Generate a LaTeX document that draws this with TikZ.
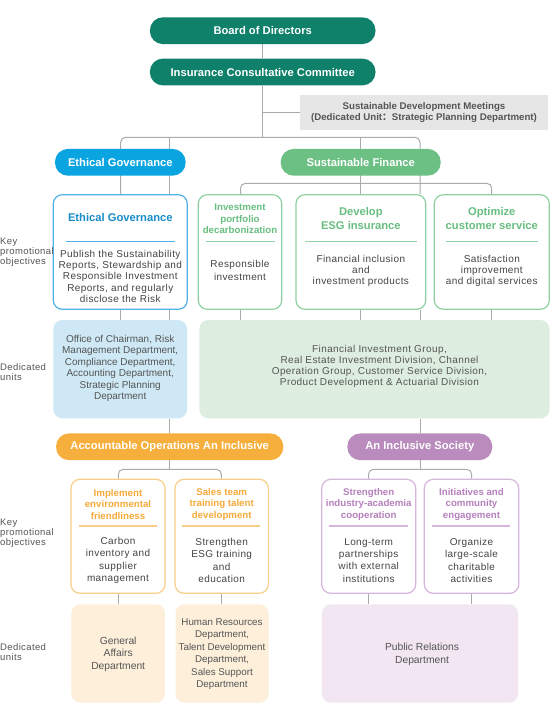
\documentclass[tikz,border=0pt]{standalone}
\usepackage{fontspec}
\setmainfont{Liberation Sans}
\newfontfamily\bodyfont[LetterSpace=4]{Liberation Sans}
\newfontfamily\cjkfont{Noto Sans CJK SC}
\usetikzlibrary{backgrounds}
\definecolor{tealc}{RGB}{15,128,106}
\definecolor{egc}{RGB}{10,165,225}
\definecolor{egborder}{RGB}{80,178,232}
\definecolor{egtitle}{RGB}{25,140,200}
\definecolor{egfill}{RGB}{206,233,245}
\definecolor{sfc}{RGB}{108,192,132}
\definecolor{sfborder}{RGB}{145,208,163}
\definecolor{sftitle}{RGB}{104,190,128}
\definecolor{sffill}{RGB}{221,237,223}
\definecolor{aoc}{RGB}{246,175,60}
\definecolor{aoborder}{RGB}{249,207,135}
\definecolor{aotitle}{RGB}{245,170,58}
\definecolor{aofill}{RGB}{253,239,218}
\definecolor{isc}{RGB}{186,140,190}
\definecolor{isborder}{RGB}{215,182,220}
\definecolor{istitle}{RGB}{182,128,188}
\definecolor{isfill}{RGB}{241,230,241}
\definecolor{graybox}{RGB}{230,230,230}
\definecolor{graytext}{RGB}{85,85,85}
\definecolor{bodytext}{RGB}{68,68,68}
\definecolor{linegray}{RGB}{170,170,170}
\begin{document}
\begin{tikzpicture}[x=1pt,y=-1pt,
  pill/.style={rectangle, rounded corners=13pt, minimum height=26.8pt, inner sep=0pt, text=white, font=\fontsize{11.2}{13}\selectfont\bfseries},
  obox/.style={rectangle, rounded corners=9pt, line width=1.2pt, fill=white, inner sep=0pt},
  fbox/.style={rectangle, rounded corners=9pt, inner sep=0pt},
  conn/.style={draw=linegray, line width=1pt},
  bigttl/.style={align=center, inner sep=0pt, font=\fontsize{11.2}{14.7}\selectfont\bfseries},
  smttl/.style={align=center, inner sep=0pt, font=\fontsize{9.7}{11.5}\selectfont\bfseries},
  bodytxt/.style={align=center, inner sep=0pt, text=bodytext},
  filltxt/.style={align=center, inner sep=0pt, text=graytext},
  sidelbl/.style={align=left, anchor=west, inner sep=0pt, text=graytext, font=\bodyfont\fontsize{9.5}{10}\selectfont},
  sepline/.style={line width=1.2pt}
]
\useasboundingbox (0,0) rectangle (550,720);

% top
\node[pill, fill=tealc, minimum width=225.6pt] (board) at (262.7,30.7) {Board of Directors};
\node[pill, fill=tealc, minimum width=225.6pt] (icc) at (262.7,72) {Insurance Consultative Committee};
\node[rectangle, fill=graybox, minimum width=248pt, minimum height=35pt, inner sep=0pt] (sdm) at (424,112.5) {};
\node[align=center, inner sep=0pt, text=graytext, font=\fontsize{9.7}{11}\selectfont\bfseries] (sdmt) at (424,112.4)
  {Sustainable Development Meetings\\(Dedicated Unit{\cjkfont ：}Strategic Planning Department)};

% second level pills
\node[pill, fill=egc, minimum width=130.7pt] (egp) at (120.3,162.3) {Ethical Governance};
\node[pill, fill=sfc, minimum width=160pt] (sfp) at (360.7,162.3) {Sustainable Finance};

% objective boxes, row 1
\node[obox, draw=egborder, minimum width=134pt, minimum height=114.6pt] (egb) at (120.3,252) {};
\node[obox, draw=sfborder, minimum width=83.4pt, minimum height=114.6pt] (ipb) at (240,252) {};
\node[obox, draw=sfborder, minimum width=129.7pt, minimum height=114.6pt] (esgb) at (360.85,252) {};
\node[obox, draw=sfborder, minimum width=115pt, minimum height=114.6pt] (csb) at (491.8,252) {};

\node[bigttl, text=egtitle] (egbT) at (120.3,217.7) {Ethical Governance};
\draw[sepline, draw=egborder] (65.7,241.7) -- (175,241.7);
\node[bodytxt, font=\bodyfont\fontsize{10}{11.3}\selectfont] (egbB) at (120.3,276.4)
  {Publish the Sustainability\\Reports, Stewardship and\\Responsible Investment\\Reports, and regularly\\disclose the Risk};

\node[smttl, text=sftitle] (ipbT) at (240,218.8) {Investment\\portfolio\\decarbonization};
\draw[sepline, draw=sfborder] (206,241.7) -- (275,241.7);
\node[bodytxt, font=\bodyfont\fontsize{10}{12.4}\selectfont] (ipbB) at (240,270.6) {Responsible\\investment};

\node[bigttl, text=sftitle] (esgbT) at (360.85,218.4) {Develop\\ESG insurance};
\draw[sepline, draw=sfborder] (305,241.7) -- (416.7,241.7);
\node[bodytxt, font=\bodyfont\fontsize{10}{11}\selectfont] (esgbB) at (360.85,270.8) {Financial inclusion\\and\\investment products};

\node[bigttl, text=sftitle] (csbT) at (491.8,218.4) {Optimize\\customer service};
\draw[sepline, draw=sfborder] (446,241.7) -- (537.7,241.7);
\node[bodytxt, font=\bodyfont\fontsize{10}{11}\selectfont] (csbB) at (491.8,270.8) {Satisfaction\\improvement\\and digital services};

% dedicated units row 1
\node[fbox, fill=egfill, minimum width=133.7pt, minimum height=98.3pt] (egf) at (120.2,369.2) {};
\node[filltxt, font=\fontsize{10}{11.5}\selectfont] (egfT) at (120.2,368.3)
  {Office of Chairman, Risk\\Management Department,\\Compliance Department,\\Accounting Department,\\Strategic Planning\\Department};
\node[fbox, fill=sffill, minimum width=350.2pt, minimum height=98.3pt] (sff) at (374.4,369.2) {};
\node[filltxt, font=\bodyfont\fontsize{10}{11}\selectfont] (sffT) at (379.5,366.7)
  {Financial Investment Group,\\Real Estate Investment Division, Channel\\Operation Group, Customer Service Division,\\Product Development \& Actuarial Division};

% third level pills
\node[pill, fill=aoc, minimum width=227.3pt] (aop) at (169.7,446.8) {Accountable Operations An Inclusive};
\node[pill, fill=isc, minimum width=145pt] (isp) at (419.8,446.8) {An Inclusive Society};

% objective boxes, row 2
\node[obox, draw=aoborder, minimum width=94pt, minimum height=114pt] (env) at (118,536.3) {};
\node[obox, draw=aoborder, minimum width=93.3pt, minimum height=114pt] (sales) at (221.7,536.3) {};
\node[obox, draw=isborder, minimum width=94pt, minimum height=114pt] (ind) at (368.7,536.3) {};
\node[obox, draw=isborder, minimum width=94.4pt, minimum height=114pt] (com) at (471.5,536.3) {};

\node[smttl, text=aotitle] (envT) at (118,504.3) {Implement\\environmental\\friendliness};
\draw[sepline, draw=aoborder] (79,526) -- (157,526);
\node[bodytxt, font=\bodyfont\fontsize{10}{12.3}\selectfont] (envB) at (118,560.4) {Carbon\\inventory and\\supplier\\management};

\node[smttl, text=aotitle] (salesT) at (221.7,504.3) {Sales team\\training talent\\development};
\draw[sepline, draw=aoborder] (182.3,526) -- (260.3,526);
\node[bodytxt, font=\bodyfont\fontsize{10}{12.3}\selectfont] (salesB) at (221.7,560.4) {Strengthen\\ESG training\\and\\education};

\node[smttl, text=istitle] (indT) at (368.7,504.3) {Strengthen\\industry-academia\\cooperation};
\draw[sepline, draw=isborder] (329.3,526) -- (408.3,526);
\node[bodytxt, font=\bodyfont\fontsize{10}{12.3}\selectfont] (indB) at (368.7,560.4) {Long-term\\partnerships\\with external\\institutions};

\node[smttl, text=istitle] (comT) at (471.5,504.3) {Initiatives and\\community\\engagement};
\draw[sepline, draw=isborder] (432.3,526) -- (510,526);
\node[bodytxt, font=\bodyfont\fontsize{10}{12.3}\selectfont] (comB) at (471.5,560.4) {Organize\\large-scale\\charitable\\activities};

% dedicated units row 2
\node[fbox, fill=aofill, minimum width=93.5pt, minimum height=98.4pt] (gaf) at (118.2,653.5) {};
\node[filltxt, font=\fontsize{10.3}{12.5}\selectfont] (gafT) at (118.2,654.3) {General\\Affairs\\Department};
\node[fbox, fill=aofill, minimum width=93pt, minimum height=98.4pt] (hrf) at (222,653.5) {};
\node[filltxt, font=\fontsize{9.8}{12.5}\selectfont] (hrfT) at (222,654) {Human Resources\\Department,\\Talent Development\\Department,\\Sales Support\\Department};
\node[fbox, fill=isfill, minimum width=196pt, minimum height=98.4pt] (prf) at (420,653.5) {};
\node[filltxt, font=\fontsize{10.3}{12.5}\selectfont] (prfT) at (422,654.5) {Public Relations\\Department};

% side labels
\node[sidelbl] (lk1) at (0,252.7) {Key\\promotional\\objectives};
\node[sidelbl] (ld1) at (0,371.7) {Dedicated\\units};
\node[sidelbl] (lk2) at (0,533) {Key\\promotional\\objectives};
\node[sidelbl] (ld2) at (0,651.7) {Dedicated\\units};

% connector helper coordinates
\coordinate (xa) at (120.7,0);
\coordinate (xb) at (169.3,0);
\coordinate (xc) at (240.5,0);
\coordinate (xd) at (360.7,0);
\coordinate (xe) at (420,0);
\coordinate (xf) at (491.7,0);
\coordinate (xg) at (118.3,0);
\coordinate (xh) at (221.3,0);
\coordinate (xi) at (368.5,0);
\coordinate (xj) at (471.7,0);
\coordinate (bus1) at (262.7,137.3);
\coordinate (bus2) at (360.7,183.3);
\coordinate (bus3) at (169.3,469.3);
\coordinate (bus4) at (420,469.3);

\begin{scope}[on background layer]
\fill[white] (0,0) rectangle (550,720);
\draw[conn] (board.south) -- (icc.north);
\draw[conn] (icc.south) -- (bus1);
\draw[conn] (sdm.west) -- (sdm.west -| icc.south);
\draw[conn, rounded corners=5pt] (egb.north -| xa) -- (xa |- bus1) -- (xe |- bus1) -- (esgb.north -| xe);
\draw[conn] (xb |- bus1) -- (egb.north -| xb);
\draw[conn] (xd |- bus1) -- (esgb.north -| xd);
\draw[conn, rounded corners=5pt] (ipb.north -| xc) -- (xc |- bus2) -- (xf |- bus2) -- (csb.north -| xf);
% box to dedicated units
\draw[conn] (egb.south -| xa) -- (egf.north -| xa);
\draw[conn] (egb.south -| xb) -- (egf.north -| xb);
\draw[conn] (ipb.south -| xc) -- (sff.north -| xc);
\draw[conn] (esgb.south -| xd) -- (sff.north -| xd);
\draw[conn] (esgb.south -| xe) -- (sff.north -| xe);
\draw[conn] (csb.south -| xf) -- (sff.north -| xf);
% to third level
\draw[conn] (egf.south -| xb) -- (aop.north -| xb);
\draw[conn] (sff.south -| xe) -- (isp.north -| xe);
\draw[conn] (aop.south -| xb) -- (bus3);
\draw[conn, rounded corners=5pt] (env.north -| xg) -- (xg |- bus3) -- (xh |- bus3) -- (sales.north -| xh);
\draw[conn] (isp.south -| xe) -- (bus4);
\draw[conn, rounded corners=5pt] (ind.north -| xi) -- (xi |- bus4) -- (xj |- bus4) -- (com.north -| xj);
\draw[conn] (env.south -| xg) -- (gaf.north -| xg);
\draw[conn] (sales.south -| xh) -- (hrf.north -| xh);
\draw[conn] (ind.south -| xi) -- (prf.north -| xi);
\draw[conn] (com.south -| xj) -- (prf.north -| xj);
\end{scope}
\end{tikzpicture}
\end{document}
